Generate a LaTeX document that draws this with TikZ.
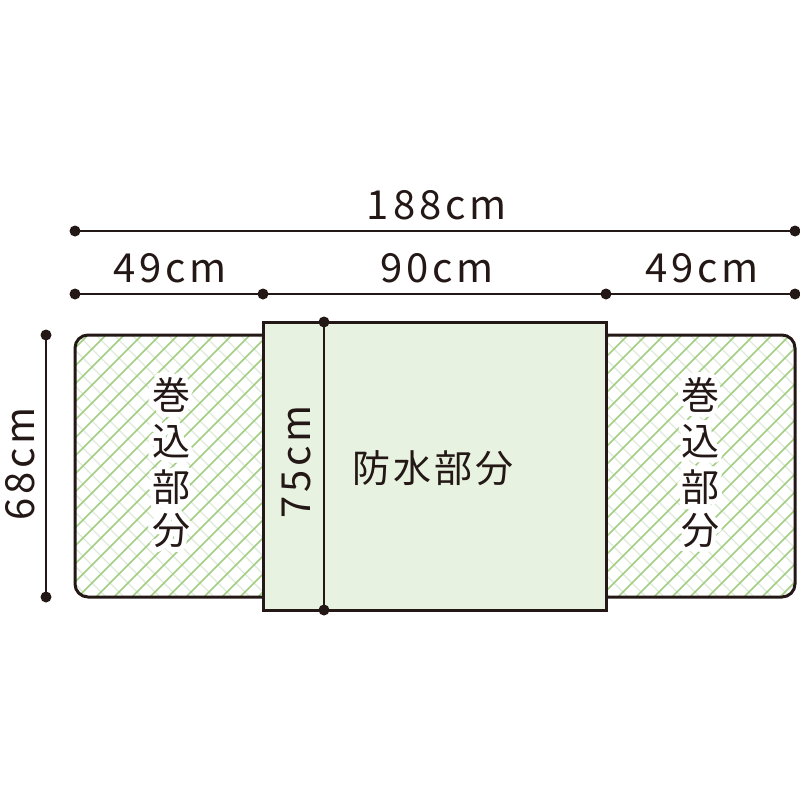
\documentclass[tikz,border=0pt]{standalone}
\usepackage{fontspec}
\setmainfont{Noto Sans CJK JP}
\usepackage{contour}
\contourlength{5pt}
\contournumber{24}
\definecolor{hatchg}{HTML}{A2CE82}
\definecolor{hatchl}{HTML}{E0EADB}
\definecolor{midfill}{HTML}{E8F2E1}
\definecolor{ink}{HTML}{231815}
\tikzset{
  dimline/.style={draw=ink, line width=2.6pt},
  dimdot/.style={circle, fill=ink, inner sep=0pt, minimum size=11pt},
  numtxt/.style={text=ink, font=\fontsize{40}{44}\selectfont\addfontfeatures{LetterSpace=10}},
  jptxt/.style={text=ink, font=\fontsize{38}{42}\selectfont},
  outline/.style={draw=ink, line width=3pt},
}
\begin{document}
\begin{tikzpicture}[x=1pt,y=-1pt]
\useasboundingbox (0,0) rectangle (800,800);
% hatched outer mat
\begin{scope}
  \clip[rounded corners=13pt] (75,335) rectangle (795,597);
  \fill[white] (75,335) rectangle (795,597);
  \foreach \a in {-300,-282,...,820} {
    \draw[hatchl, line width=1.1pt] (\a,335) -- ++(262,262);
  }
  \foreach \a in {-300,-282,...,820} {
    \draw[hatchg, line width=1.7pt] (\a,597) -- ++(262,-262);
  }
\end{scope}
\draw[outline, rounded corners=13pt] (75,335) rectangle (795,597);
% middle waterproof part
\draw[outline, fill=midfill] (263,322) rectangle (606,610);
% 75cm line
\node[dimdot] (v1) at (324,322) {};
\node[dimdot] (v2) at (324,610) {};
\draw[dimline] (v1.center) -- (v2.center);
% top dimension 188
\node[dimdot] (t1) at (75,231) {};
\node[dimdot] (t2) at (795,231) {};
\draw[dimline] (t1.center) -- (t2.center);
\node[numtxt] (l188) at (437,205) {188cm};
% second dimension row
\node[dimdot] (s1) at (75,294) {};
\node[dimdot] (s2) at (263,294) {};
\node[dimdot] (s3) at (606,294) {};
\node[dimdot] (s4) at (795,294) {};
\draw[dimline] (s1.center) -- (s4.center);
\node[numtxt] (l49a) at (170,268) {49cm};
\node[numtxt] (l90) at (437,268) {90cm};
\node[numtxt] (l49b) at (702,268) {49cm};
% left dimension 68
\node[dimdot] (h1) at (46,335) {};
\node[dimdot] (h2) at (46,597) {};
\draw[dimline] (h1.center) -- (h2.center);
\node[numtxt, rotate=90] (l68) at (20,464) {68cm};
% 75cm label
\node[numtxt, rotate=90] (l75) at (296,462) {75cm};
% waterproof label
\node[jptxt] (bs) at (433,468) {防\kern3pt 水\kern3pt 部\kern3pt 分};
% rolled-in parts, with a white knock-out round each character
\foreach \c/\y/\n in {巻/397/a,込/444/b,部/490/c,分/533/d} {
  \node[jptxt] (l\n) at (171,\y) {\contour{white}{\c}};
  \node[jptxt] (r\n) at (700,\y) {\contour{white}{\c}};
}
\end{tikzpicture}
\end{document}
